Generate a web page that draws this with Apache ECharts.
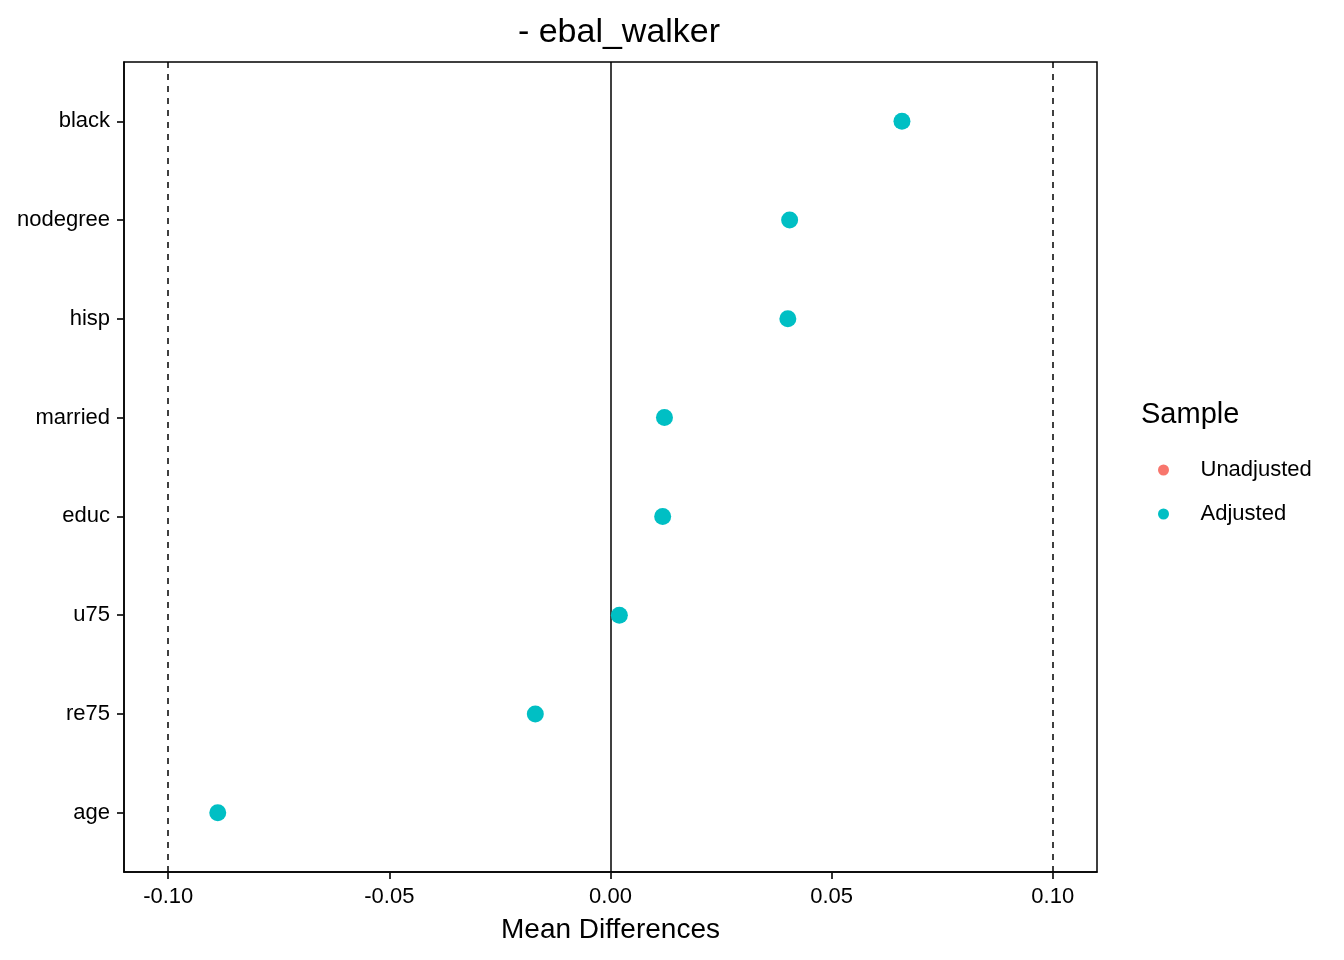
<!doctype html>
<html>
<head>
<meta charset="utf-8">
<script src="https://cdn.jsdelivr.net/npm/echarts@6/dist/echarts.min.js"></script>
<style>
    html, body { margin: 0; padding: 0; background: #fff; }
    #chart { width: 1344px; height: 960px; }
</style>
</head>
<body>
<div id="chart"></div>
<script>
    // covariates, bottom to top
    let covariates = ['age', 're75', 'u75', 'educ', 'married', 'hisp', 'nodegree', 'black'];
    let adjusted = [-0.0888, -0.0170, 0.0020, 0.0118, 0.0122, 0.0401, 0.0405, 0.0659];
    let unadjusted = [];
    let xTicks = [-0.10, -0.05, 0.00, 0.05, 0.10];
    let thresholds = [-0.1, 0.1];

    let font = 'Liberation Sans, Arial, sans-serif';
    let chart = echarts.init(document.getElementById('chart'));

    function toPoints(values) {
        let out = [];
        for (let i = 0; i < values.length; i++) {
            out.push([values[i], i + 1]);
        }
        return out;
    }

    let option = {
        animation: false,
        title: {
            text: '- ebal_walker',
            left: 614,
            top: 11,
            textAlign: 'center',
            textStyle: { fontFamily: font, fontSize: 34, fontWeight: 'normal', color: '#000' }
        },
        grid: { left: 124, right: 247, top: 62, bottom: 88 },
        xAxis: {
            type: 'value',
            min: -0.11,
            max: 0.11,
            name: 'Mean Differences',
            nameLocation: 'middle',
            nameGap: 44,
            nameTextStyle: { fontFamily: font, fontSize: 28, color: '#000' },
            splitLine: { show: false },
            axisLine: { show: true, onZero: false, lineStyle: { color: '#000', width: 1.5 } },
            axisTick: { show: true, length: 7, customValues: xTicks, lineStyle: { color: '#333', width: 2 } },
            axisLabel: {
                customValues: xTicks,
                margin: 14,
                fontFamily: font, fontSize: 22, color: '#000',
                formatter: function (v) { return v.toFixed(2); }
            }
        },
        yAxis: {
            type: 'value',
            min: 0.4,
            max: 8.6,
            splitLine: { show: false },
            axisLine: { show: true, onZero: false, lineStyle: { color: '#000', width: 1.5 } },
            axisTick: { show: true, length: 7, customValues: [1, 2, 3, 4, 5, 6, 7, 8], lineStyle: { color: '#333', width: 2 } },
            axisLabel: {
                customValues: [1, 2, 3, 4, 5, 6, 7, 8],
                margin: 14,
                fontFamily: font, fontSize: 22, color: '#000',
                formatter: function (v) { return covariates[Math.round(v) - 1] || ''; }
            }
        },
        legend: {
            orient: 'vertical',
            left: 1153,
            top: 454,
            itemGap: 22,
            itemWidth: 20,
            itemHeight: 11,
            textStyle: { fontFamily: font, fontSize: 22, color: '#000', padding: [0, 0, 0, 22] },
            data: [
                { name: 'Unadjusted', icon: 'circle', itemStyle: { color: '#F8766D' } },
                { name: 'Adjusted', icon: 'circle', itemStyle: { color: '#00BFC4' } }
            ]
        },
        graphic: [{
            type: 'text',
            left: 1141,
            top: 400,
            style: { text: 'Sample', font: '29px ' + font, fill: '#000' }
        }, {
            // panel border
            type: 'rect',
            shape: { x: 124, y: 62, width: 973, height: 810 },
            style: { fill: 'none', stroke: '#000', lineWidth: 1.5 },
            z: 10
        }],
        series: [{
            name: 'Unadjusted',
            type: 'scatter',
            symbolSize: 17,
            itemStyle: { color: '#F8766D', opacity: 1 },
            data: toPoints(unadjusted)
        }, {
            name: 'Adjusted',
            type: 'scatter',
            symbolSize: 17,
            itemStyle: { color: '#00BFC4', opacity: 1 },
            data: toPoints(adjusted),
            z: 5,
            markLine: {
                silent: true,
                symbol: 'none',
                label: { show: false },
                data: [
                    { xAxis: 0, lineStyle: { type: 'solid', color: '#000', width: 1.5 } },
                    { xAxis: thresholds[0], lineStyle: { type: [6, 6], color: '#000', width: 1.5 } },
                    { xAxis: thresholds[1], lineStyle: { type: [6, 6], color: '#000', width: 1.5 } }
                ]
            }
        }]
    };
    chart.setOption(option);
</script>
</body>
</html>
